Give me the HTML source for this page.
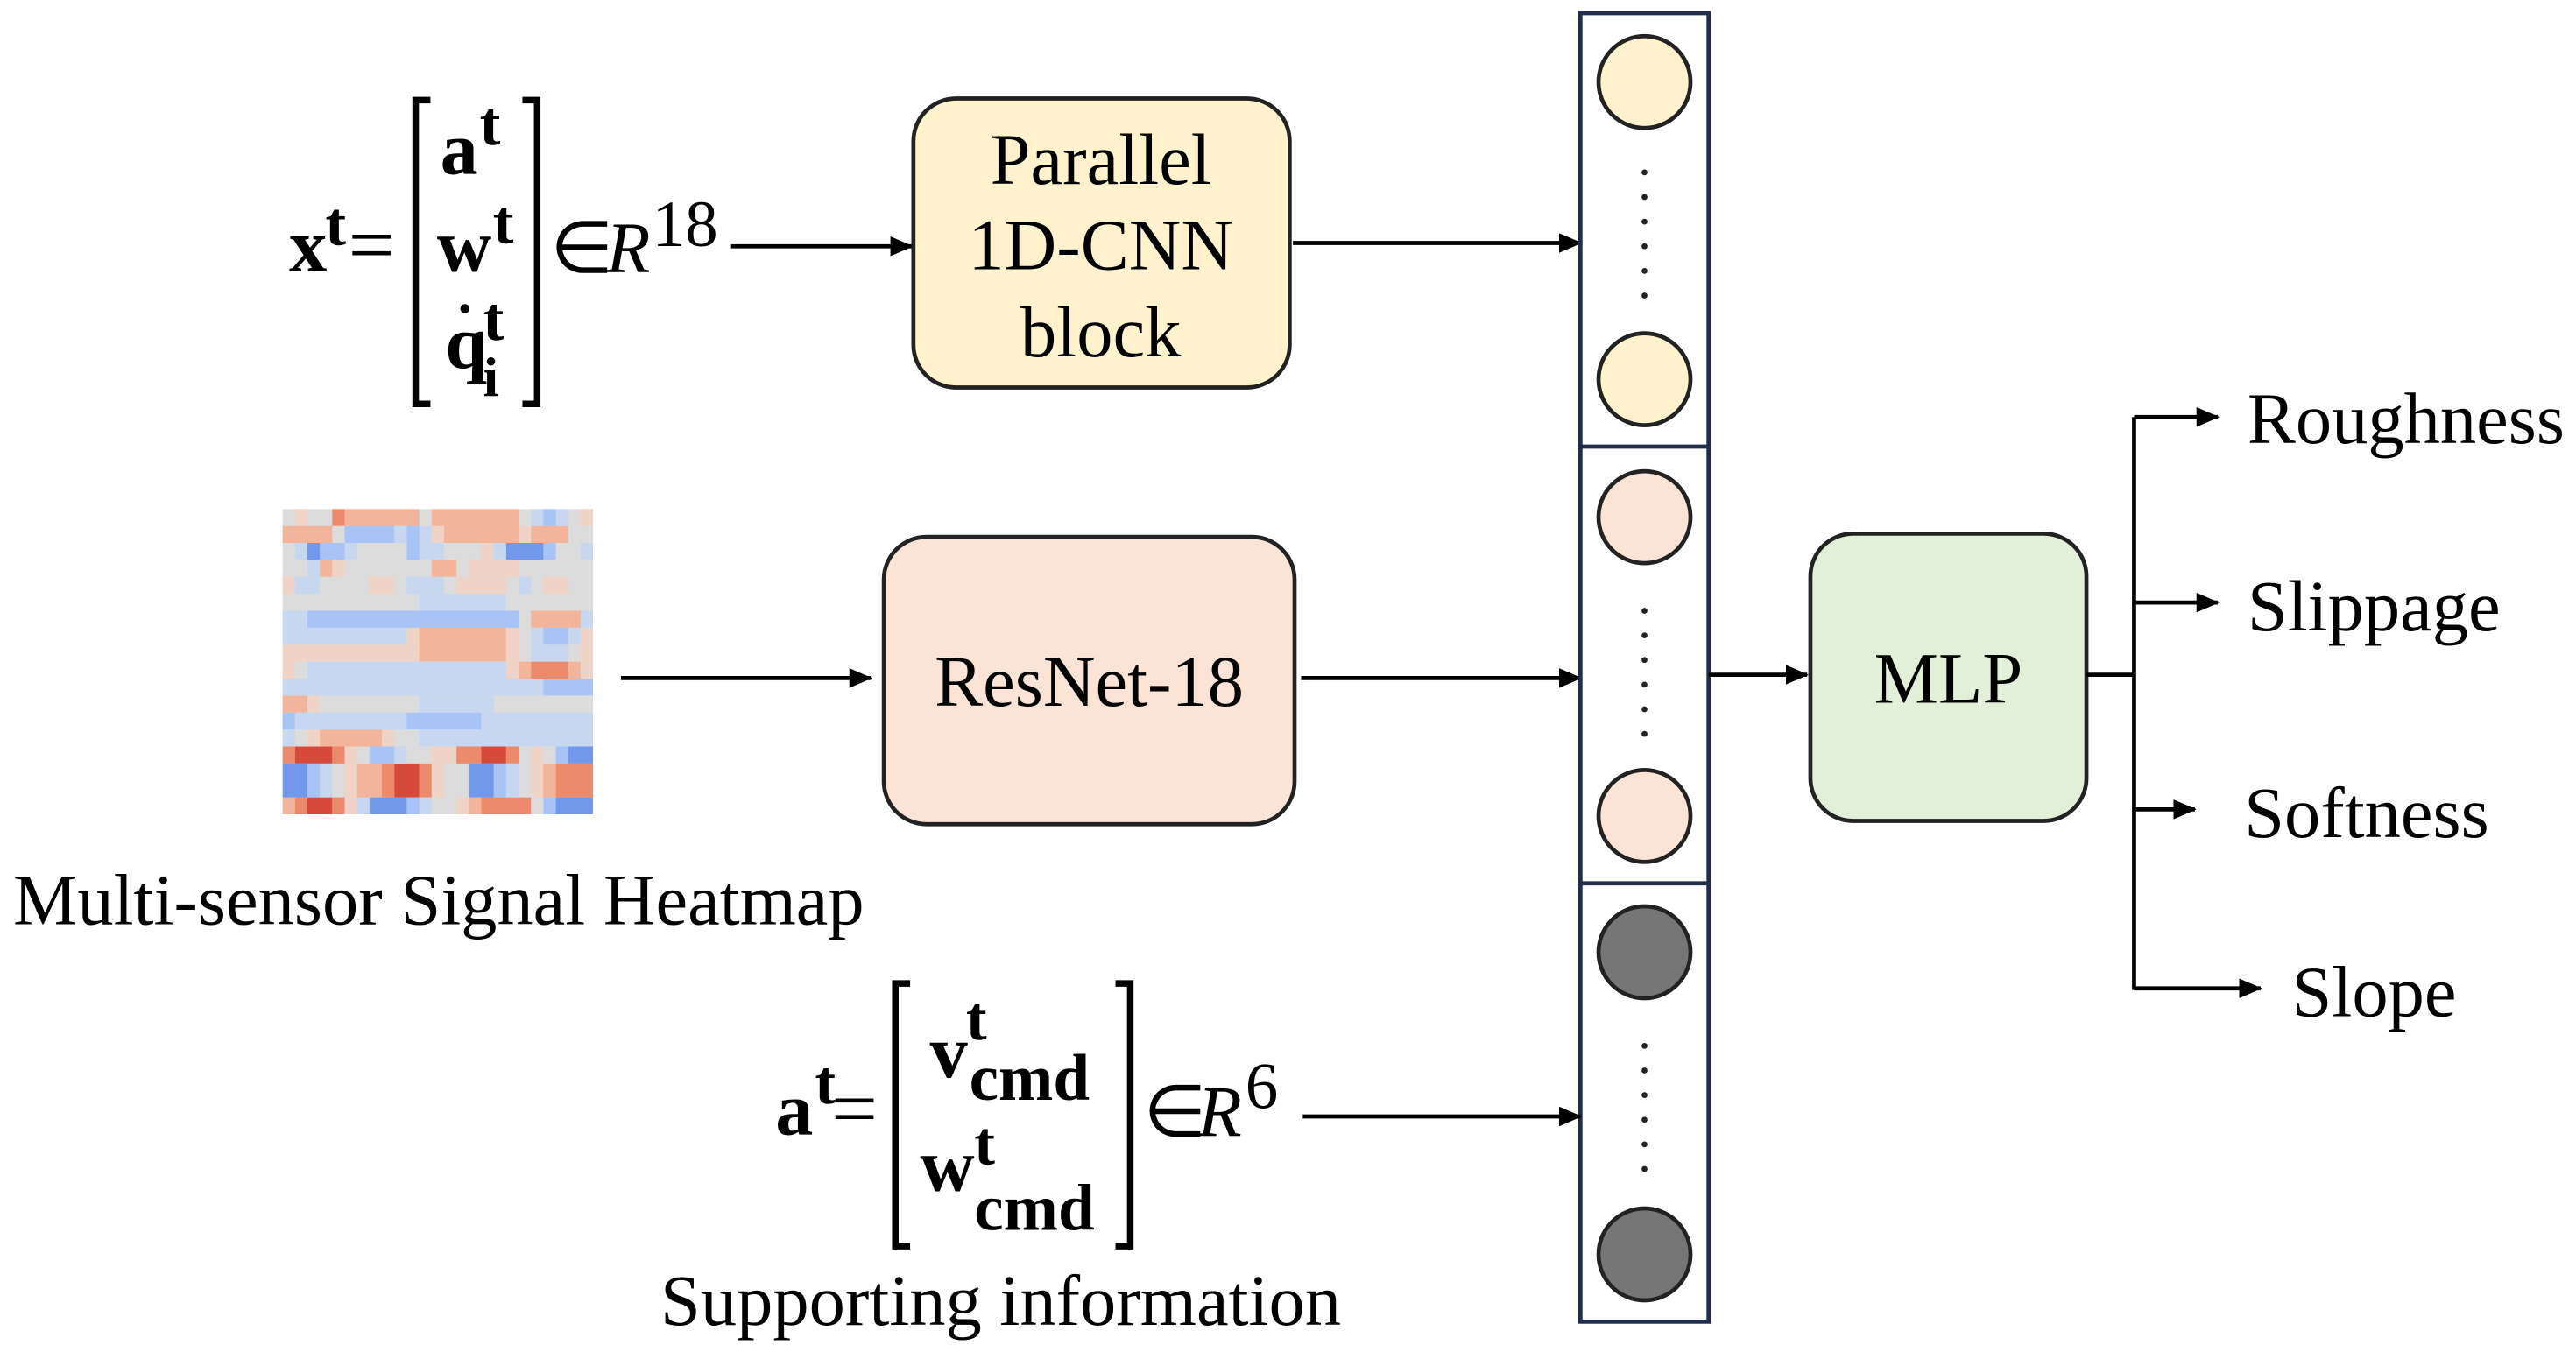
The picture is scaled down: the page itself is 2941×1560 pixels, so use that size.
<!DOCTYPE html>
<html><head><meta charset="utf-8"><style>
html,body{margin:0;padding:0;background:#fff;}
svg{display:block;}
text{font-family:"Liberation Serif",serif;fill:#000;}
.b{font-weight:bold;}
</style></head><body>
<svg width="2941" height="1560" viewBox="0 0 1568 832" preserveAspectRatio="none" xmlns="http://www.w3.org/2000/svg">
<defs>
<marker id="ah" markerWidth="14" markerHeight="12" refX="13" refY="6" orient="auto" markerUnits="userSpaceOnUse" viewBox="0 0 14 12">
<path d="M0,0 L14,6 L0,12 z" fill="#000"/></marker>
</defs>
<rect width="1568" height="832" fill="#fff"/>

<!-- x^t equation -->
<text x="176" y="165" font-size="46" class="b">x</text>
<text x="198" y="149" font-size="38" class="b">t</text>
<text x="212" y="166" font-size="50">=</text>
<path d="M262,61 H253 V246 H262" fill="none" stroke="#000" stroke-width="4"/>
<path d="M318,61 H327 V246 H318" fill="none" stroke="#000" stroke-width="4"/>
<text x="268" y="106" font-size="46" class="b">a</text>
<text x="292" y="88" font-size="38" class="b">t</text>
<text x="266" y="165" font-size="46" class="b">w</text>
<text x="300" y="148" font-size="38" class="b">t</text>
<text x="271" y="224" font-size="46" class="b">q</text>
<circle cx="283" cy="188" r="2.8" fill="#000"/>
<text x="294" y="207" font-size="38" class="b">t</text>
<text x="294" y="241" font-size="34" class="b">i</text>
<text x="335" y="166" font-size="44">∈</text>
<text x="369" y="166" font-size="44" font-style="italic">R</text>
<text x="397" y="150" font-size="40">18</text>
<line x1="445" y1="150" x2="555" y2="150" stroke="#000" stroke-width="2.5" marker-end="url(#ah)"/>

<!-- Box 1 -->
<rect x="556" y="60" width="229" height="176" rx="26" fill="#fff2cc" stroke="#222" stroke-width="2.5"/>
<text x="670" y="112" font-size="44" text-anchor="middle">Parallel</text>
<text x="670" y="164" font-size="44" text-anchor="middle">1D-CNN</text>
<text x="670" y="217" font-size="44" text-anchor="middle">block</text>
<line x1="787" y1="148" x2="962" y2="148" stroke="#000" stroke-width="2.5" marker-end="url(#ah)"/>

<!-- Heatmap -->
<svg x="172" y="310" width="189" height="186" viewBox="0 0 25 18" preserveAspectRatio="none">
<rect width="25" height="18" fill="#dddcdc"/>
<g fill="#efd3c6">
<rect x="1" y="0" width="1" height="1"/><rect x="24" y="0" width="1" height="1"/>
<rect x="12" y="1" width="1" height="1"/><rect x="19" y="1" width="1" height="1"/>
<rect x="16" y="2" width="1" height="1"/>
<rect x="4" y="3" width="1" height="1"/><rect x="15" y="3" width="4" height="1"/>
<rect x="0" y="4" width="1" height="1"/><rect x="7" y="4" width="2" height="1"/><rect x="14" y="4" width="4" height="1"/><rect x="21" y="4" width="2" height="1"/>
<rect x="10" y="7" width="1" height="1"/><rect x="18" y="7" width="1" height="1"/><rect x="24" y="7" width="1" height="1"/>
<rect x="0" y="8" width="11" height="1"/><rect x="18" y="8" width="1" height="1"/><rect x="24" y="8" width="1" height="1"/>
<rect x="0" y="9" width="1" height="1"/><rect x="18" y="9" width="1" height="1"/><rect x="24" y="9" width="1" height="1"/>
<rect x="2" y="11" width="1" height="1"/>
<rect x="2" y="13" width="1" height="1"/><rect x="8" y="13" width="1" height="1"/>
<rect x="5" y="14" width="1" height="1"/><rect x="12" y="14" width="2" height="1"/><rect x="20" y="14" width="1" height="1"/>
<rect x="5" y="15" width="1" height="2"/><rect x="12" y="15" width="1" height="2"/><rect x="20" y="15" width="1" height="2"/>
<rect x="5" y="17" width="1" height="1"/><rect x="14" y="17" width="1" height="1"/><rect x="19" y="17" width="1" height="1"/>
</g>
<g fill="#f2b59b">
<rect x="5" y="0" width="6" height="1"/><rect x="12" y="0" width="7" height="1"/>
<rect x="0" y="1" width="4" height="1"/><rect x="13" y="1" width="6" height="1"/><rect x="20" y="1" width="3" height="1"/>
<rect x="3" y="3" width="1" height="1"/><rect x="12" y="3" width="2" height="1"/>
<rect x="20" y="6" width="4" height="1"/>
<rect x="11" y="7" width="7" height="1"/>
<rect x="11" y="8" width="7" height="1"/>
<rect x="19" y="9" width="1" height="1"/><rect x="23" y="9" width="1" height="1"/>
<rect x="0" y="11" width="2" height="1"/>
<rect x="3" y="13" width="5" height="1"/>
<rect x="6" y="15" width="2" height="2"/><rect x="21" y="15" width="1" height="2"/>
<rect x="0" y="17" width="1" height="1"/><rect x="15" y="17" width="1" height="1"/>
</g>
<g fill="#ec8a6c">
<rect x="4" y="0" width="1" height="1"/>
<rect x="20" y="9" width="3" height="1"/>
<rect x="0" y="14" width="1" height="1"/><rect x="4" y="14" width="1" height="1"/><rect x="14" y="14" width="2" height="1"/><rect x="18" y="14" width="1" height="1"/>
<rect x="8" y="15" width="1" height="2"/><rect x="11" y="15" width="1" height="2"/><rect x="22" y="15" width="3" height="2"/>
<rect x="1" y="17" width="1" height="1"/><rect x="4" y="17" width="1" height="1"/><rect x="16" y="17" width="4" height="1"/>
</g>
<g fill="#d54a3b">
<rect x="1" y="14" width="3" height="1"/><rect x="16" y="14" width="2" height="1"/>
<rect x="9" y="15" width="2" height="2"/>
<rect x="2" y="17" width="2" height="1"/>
</g>
<g fill="#c8d7f0">
<rect x="20" y="0" width="1" height="1"/><rect x="22" y="0" width="1" height="1"/>
<rect x="9" y="1" width="1" height="1"/><rect x="11" y="1" width="1" height="1"/>
<rect x="1" y="2" width="1" height="1"/><rect x="5" y="2" width="1" height="1"/><rect x="11" y="2" width="2" height="1"/><rect x="17" y="2" width="1" height="1"/><rect x="24" y="2" width="1" height="1"/>
<rect x="2" y="3" width="1" height="1"/>
<rect x="1" y="4" width="2" height="1"/><rect x="10" y="4" width="3" height="1"/><rect x="19" y="4" width="1" height="1"/>
<rect x="11" y="5" width="7" height="1"/>
<rect x="0" y="6" width="2" height="1"/><rect x="24" y="6" width="1" height="1"/>
<rect x="0" y="7" width="10" height="1"/><rect x="20" y="7" width="1" height="1"/><rect x="23" y="7" width="1" height="1"/>
<rect x="20" y="8" width="3" height="1"/>
<rect x="2" y="9" width="16" height="1"/>
<rect x="0" y="10" width="21" height="1"/>
<rect x="11" y="11" width="6" height="1"/>
<rect x="1" y="12" width="9" height="1"/><rect x="16" y="12" width="9" height="1"/>
<rect x="0" y="13" width="1" height="1"/><rect x="11" y="13" width="14" height="1"/>
<rect x="9" y="14" width="1" height="1"/>
<rect x="3" y="15" width="1" height="2"/><rect x="18" y="15" width="1" height="2"/>
<rect x="6" y="17" width="1" height="1"/><rect x="11" y="17" width="1" height="1"/>
</g>
<g fill="#a8c3f5">
<rect x="21" y="0" width="1" height="1"/>
<rect x="5" y="1" width="4" height="1"/><rect x="10" y="1" width="1" height="1"/>
<rect x="3" y="2" width="2" height="1"/><rect x="10" y="2" width="1" height="1"/><rect x="21" y="2" width="1" height="1"/>
<rect x="2" y="6" width="17" height="1"/>
<rect x="21" y="7" width="2" height="1"/>
<rect x="21" y="10" width="4" height="1"/>
<rect x="0" y="12" width="1" height="1"/><rect x="10" y="12" width="6" height="1"/>
<rect x="7" y="14" width="2" height="1"/><rect x="22" y="14" width="1" height="1"/>
<rect x="2" y="15" width="1" height="2"/><rect x="17" y="15" width="1" height="2"/>
<rect x="10" y="17" width="1" height="1"/><rect x="21" y="17" width="1" height="1"/>
</g>
<g fill="#7198ea">
<rect x="2" y="2" width="1" height="1"/><rect x="18" y="2" width="3" height="1"/>
<rect x="23" y="14" width="2" height="1"/>
<rect x="0" y="15" width="2" height="2"/><rect x="15" y="15" width="2" height="2"/>
<rect x="7" y="17" width="3" height="1"/><rect x="22" y="17" width="3" height="1"/>
</g>
</svg>
<text x="8" y="563" font-size="44">Multi-sensor Signal Heatmap</text>
<line x1="378" y1="413" x2="530" y2="413" stroke="#000" stroke-width="2.5" marker-end="url(#ah)"/>

<!-- Box 2 -->
<rect x="538" y="327" width="250" height="175" rx="26" fill="#fbe3d6" stroke="#222" stroke-width="2.5"/>
<text x="663" y="430" font-size="44" text-anchor="middle">ResNet-18</text>
<line x1="792" y1="413" x2="962" y2="413" stroke="#000" stroke-width="2.5" marker-end="url(#ah)"/>

<!-- Feature column -->
<rect x="962" y="8" width="78" height="797" fill="#fff" stroke="#1f2d4e" stroke-width="2.5"/>
<line x1="962" y1="272" x2="1040" y2="272" stroke="#1f2d4e" stroke-width="2.5"/>
<line x1="962" y1="538" x2="1040" y2="538" stroke="#1f2d4e" stroke-width="2.5"/>
<g stroke="#222" stroke-width="2.5">
<circle cx="1001" cy="50" r="28" fill="#fff2cc"/>
<circle cx="1001" cy="231" r="28" fill="#fff2cc"/>
<circle cx="1001" cy="315" r="28" fill="#fbe3d6"/>
<circle cx="1001" cy="497" r="28" fill="#fbe3d6"/>
<circle cx="1001" cy="580" r="28" fill="#767676"/>
<circle cx="1001" cy="764" r="28" fill="#767676"/>
</g>
<g fill="#222">
<circle cx="1001" cy="105" r="1.8"/><circle cx="1001" cy="120" r="1.8"/><circle cx="1001" cy="135" r="1.8"/><circle cx="1001" cy="150" r="1.8"/><circle cx="1001" cy="165" r="1.8"/><circle cx="1001" cy="180" r="1.8"/>
<circle cx="1001" cy="372" r="1.8"/><circle cx="1001" cy="387" r="1.8"/><circle cx="1001" cy="402" r="1.8"/><circle cx="1001" cy="417" r="1.8"/><circle cx="1001" cy="432" r="1.8"/><circle cx="1001" cy="447" r="1.8"/>
<circle cx="1001" cy="637" r="1.8"/><circle cx="1001" cy="652" r="1.8"/><circle cx="1001" cy="667" r="1.8"/><circle cx="1001" cy="682" r="1.8"/><circle cx="1001" cy="697" r="1.8"/><circle cx="1001" cy="712" r="1.8"/>
</g>
<line x1="1040" y1="411" x2="1100" y2="411" stroke="#000" stroke-width="2.5" marker-end="url(#ah)"/>

<!-- MLP -->
<rect x="1102" y="325" width="168" height="175" rx="26" fill="#e2f0d9" stroke="#222" stroke-width="2.5"/>
<text x="1186" y="428" font-size="44" text-anchor="middle">MLP</text>

<!-- outputs -->
<g stroke="#000" stroke-width="2.5" fill="none">
<line x1="1270" y1="411" x2="1299" y2="411"/>
<line x1="1299" y1="254" x2="1299" y2="603"/>
<line x1="1299" y1="254" x2="1350" y2="254" marker-end="url(#ah)"/>
<line x1="1299" y1="367" x2="1350" y2="367" marker-end="url(#ah)"/>
<line x1="1299" y1="493" x2="1336" y2="493" marker-end="url(#ah)"/>
<line x1="1299" y1="602" x2="1376" y2="602" marker-end="url(#ah)"/>
</g>
<text x="1368" y="270" font-size="44">Roughness</text>
<text x="1368" y="384" font-size="44">Slippage</text>
<text x="1366" y="510" font-size="44">Softness</text>
<text x="1395" y="619" font-size="44">Slope</text>

<!-- a^t equation -->
<text x="472" y="691" font-size="46" class="b">a</text>
<text x="496" y="672" font-size="38" class="b">t</text>
<text x="506" y="692" font-size="50">=</text>
<path d="M554,599 H545 V759 H554" fill="none" stroke="#000" stroke-width="4"/>
<path d="M679,599 H688 V759 H679" fill="none" stroke="#000" stroke-width="4"/>
<text x="566" y="656" font-size="46" class="b">v</text>
<text x="588" y="633" font-size="38" class="b">t</text>
<text x="590" y="670" font-size="40" class="b">cmd</text>
<text x="560" y="725" font-size="46" class="b">w</text>
<text x="593" y="709" font-size="38" class="b">t</text>
<text x="593" y="749" font-size="40" class="b">cmd</text>
<text x="696" y="692" font-size="44">∈</text>
<text x="729" y="692" font-size="44" font-style="italic">R</text>
<text x="758" y="675" font-size="40">6</text>
<line x1="793" y1="680" x2="962" y2="680" stroke="#000" stroke-width="2.5" marker-end="url(#ah)"/>
<text x="402" y="807" font-size="44">Supporting information</text>
</svg>
</body></html>
